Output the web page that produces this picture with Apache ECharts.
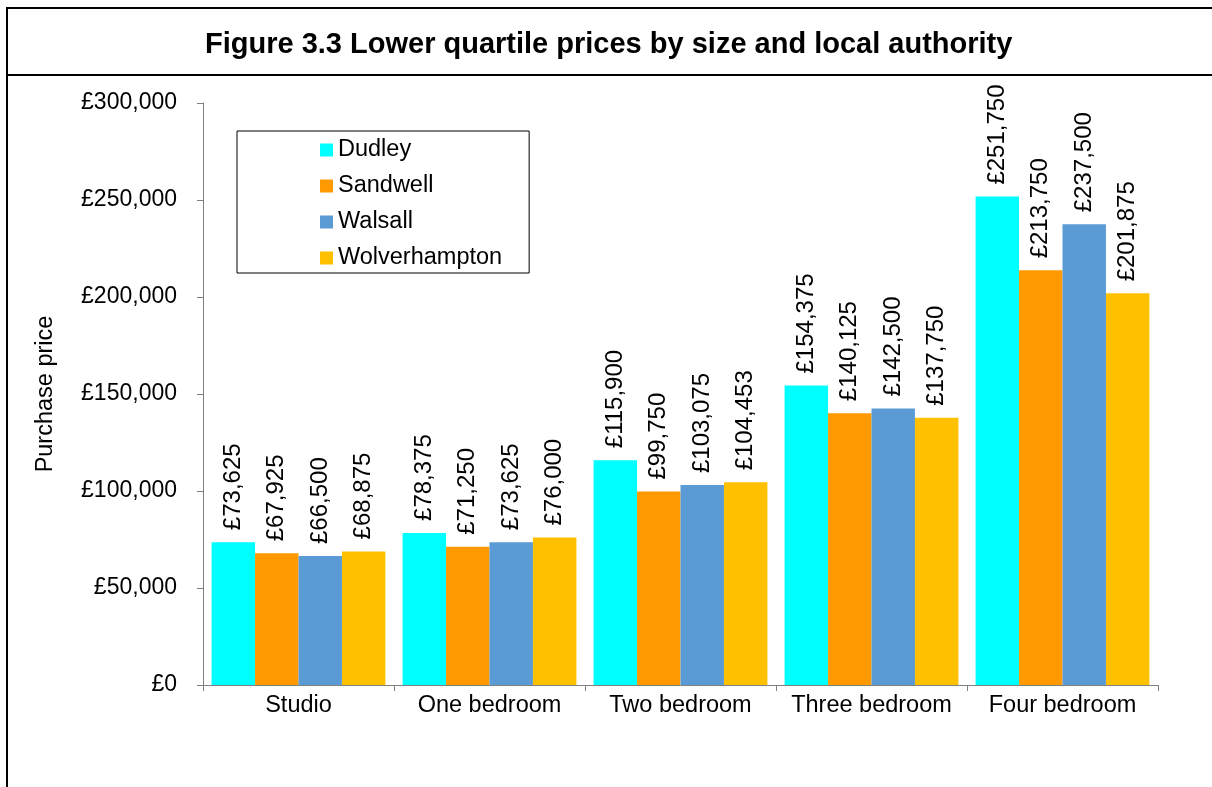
<!DOCTYPE html>
<html>
<head>
<meta charset="utf-8">
<script src="https://cdn.jsdelivr.net/npm/echarts@6/dist/echarts.min.js"></script>
<style>
html,body{margin:0;padding:0;background:#fff;}
#chart{width:1212px;height:787px;}
</style>
</head>
<body>
<div id="chart"></div>
<script>
var titleText = 'Figure 3.3 Lower quartile prices by size and local authority';
var categories = ['Studio', 'One bedroom', 'Two bedroom', 'Three bedroom', 'Four bedroom'];
var seriesNames = ['Dudley', 'Sandwell', 'Walsall', 'Wolverhampton'];
var dudley = [73625, 78375, 115900, 154375, 251750];
var sandwell = [67925, 71250, 99750, 140125, 213750];
var walsall = [66500, 73625, 103075, 142500, 237500];
var wolverhampton = [68875, 76000, 104453, 137750, 201875];
var colors = ['#00FFFF', '#FF9900', '#5B9BD5', '#FFC000'];
var yAxisName = 'Purchase price';

var font = 'Arial, "Liberation Sans", sans-serif';
function gbp(v) {
  return '£' + Math.round(v).toString().replace(/\B(?=(\d{3})+(?!\d))/g, ',');
}
var dataSets = [dudley, sandwell, walsall, wolverhampton];
var series = seriesNames.map(function (name, i) {
  return {
    name: name,
    type: 'bar',
    data: dataSets[i],
    barGap: '0%',
    barCategoryGap: '9%',
    itemStyle: { color: colors[i] },
    label: {
      show: true,
      position: 'top',
      rotate: 90,
      align: 'left',
      verticalAlign: 'middle',
      distance: 12,
      color: '#000',
      fontFamily: font,
      fontSize: 24,
      formatter: function (p) { return gbp(p.value); }
    }
  };
});

var chart = echarts.init(document.getElementById('chart'), null, { renderer: 'canvas' });
chart.setOption({
  animation: false,
  backgroundColor: '#fff',
  title: {
    text: titleText,
    left: 200,
    top: 25,
    textStyle: { fontFamily: font, fontSize: 29, fontWeight: 'bold', color: '#000' }
  },
  graphic: [
    { type: 'rect', shape: { x: 7, y: 8, width: 1230, height: 800 }, style: { fill: null, stroke: '#000', lineWidth: 2 }, silent: true },
    { type: 'line', shape: { x1: 7, y1: 75, x2: 1212, y2: 75 }, style: { stroke: '#000', lineWidth: 2 }, silent: true }
  ],
  legend: {
    data: seriesNames,
    orient: 'vertical',
    left: 237,
    top: 131,
    padding: [7, 27, 3, 83],
    borderColor: '#000',
    borderWidth: 1,
    itemWidth: 13,
    itemHeight: 13,
    itemGap: 12,
    icon: 'rect',
    textStyle: { fontFamily: font, fontSize: 23.5, color: '#000', lineHeight: 22 }
  },
  grid: { left: 203, right: 54, top: 103, bottom: 102, containLabel: false },
  xAxis: {
    type: 'category',
    data: categories,
    axisLine: { lineStyle: { color: '#808080', width: 1 } },
    axisTick: { show: true, interval: 0, length: 6, lineStyle: { color: '#808080' }, alignWithLabel: false },
    axisLabel: { interval: 0, fontFamily: font, fontSize: 23.5, color: '#000', margin: 9 }
  },
  yAxis: {
    type: 'value',
    min: 0,
    max: 300000,
    interval: 50000,
    name: yAxisName,
    nameLocation: 'middle',
    nameGap: 145,
    nameTextStyle: { fontFamily: font, fontSize: 23.5, color: '#000' },
    splitLine: { show: false },
    axisLine: { show: true, lineStyle: { color: '#808080', width: 1 } },
    axisTick: { show: true, length: 6, lineStyle: { color: '#808080' } },
    axisLabel: { fontFamily: font, fontSize: 23, color: '#000', margin: 26, formatter: gbp }
  },
  series: series
});
</script>
</body>
</html>
